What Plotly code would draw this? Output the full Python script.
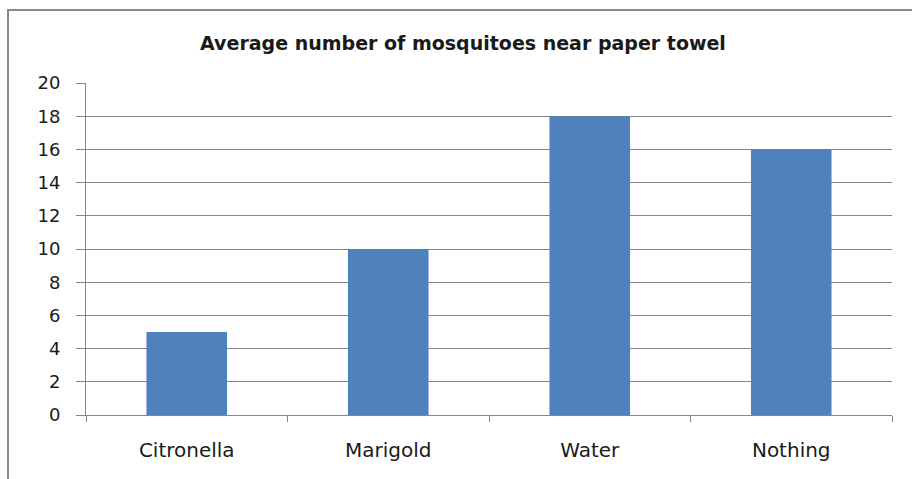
import plotly.graph_objects as go

# Chart data
categories = ["Citronella", "Marigold", "Water", "Nothing"]
mosquitoes = [5, 10, 18, 16]
y_ticks = list(range(0, 21, 2))

W, H = 912, 479
L, R, T, B = 86, 20, 83, 64
pw, ph = W - L - R, H - T - B

def px_x(x):
    return (x - L) / pw

def px_y(y):
    return (H - B - y) / ph

GRID = "#868686"
TEXT = "#1a1a1a"

fig = go.Figure(
    go.Bar(
        x=categories,
        y=mosquitoes,
        marker=dict(color="#4F81BD", line=dict(width=0)),
        width=0.4,
    )
)

fig.update_layout(
    width=W,
    height=H,
    margin=dict(l=L, r=R, t=T, b=B),
    paper_bgcolor="white",
    plot_bgcolor="white",
    showlegend=False,
    title=dict(
        text="<b>Average number of mosquitoes near paper towel</b>",
        font=dict(family="DejaVu Sans", size=19, color=TEXT),
        x=px_x(463),
        xref="paper",
        xanchor="center",
        y=1 - 43 / H,
        yref="container",
        yanchor="middle",
    ),
    xaxis=dict(
        type="category",
        showgrid=False,
        showline=True,
        linecolor=GRID,
        linewidth=1,
        ticks="outside",
        tickson="boundaries",
        ticklen=6,
        tickcolor=GRID,
        tickfont=dict(family="DejaVu Sans", size=20, color=TEXT),
        ticklabelstandoff=17,
    ),
    yaxis=dict(
        range=[0, 20],
        tickvals=y_ticks,
        showgrid=True,
        gridcolor=GRID,
        gridwidth=1,
        zeroline=False,
        showline=True,
        linecolor=GRID,
        linewidth=1,
        ticks="outside",
        ticklen=9,
        tickcolor=GRID,
        tickfont=dict(family="DejaVu Sans", size=18, color=TEXT),
        ticklabelstandoff=12,
    ),
    shapes=[
        dict(
            type="rect",
            xref="paper",
            yref="paper",
            x0=px_x(8),
            x1=px_x(930),
            y0=px_y(500),
            y1=px_y(10),
            line=dict(color="#8a8a8a", width=2),
            fillcolor="rgba(0,0,0,0)",
            layer="above",
        )
    ],
)

fig.write_html("out.html")
